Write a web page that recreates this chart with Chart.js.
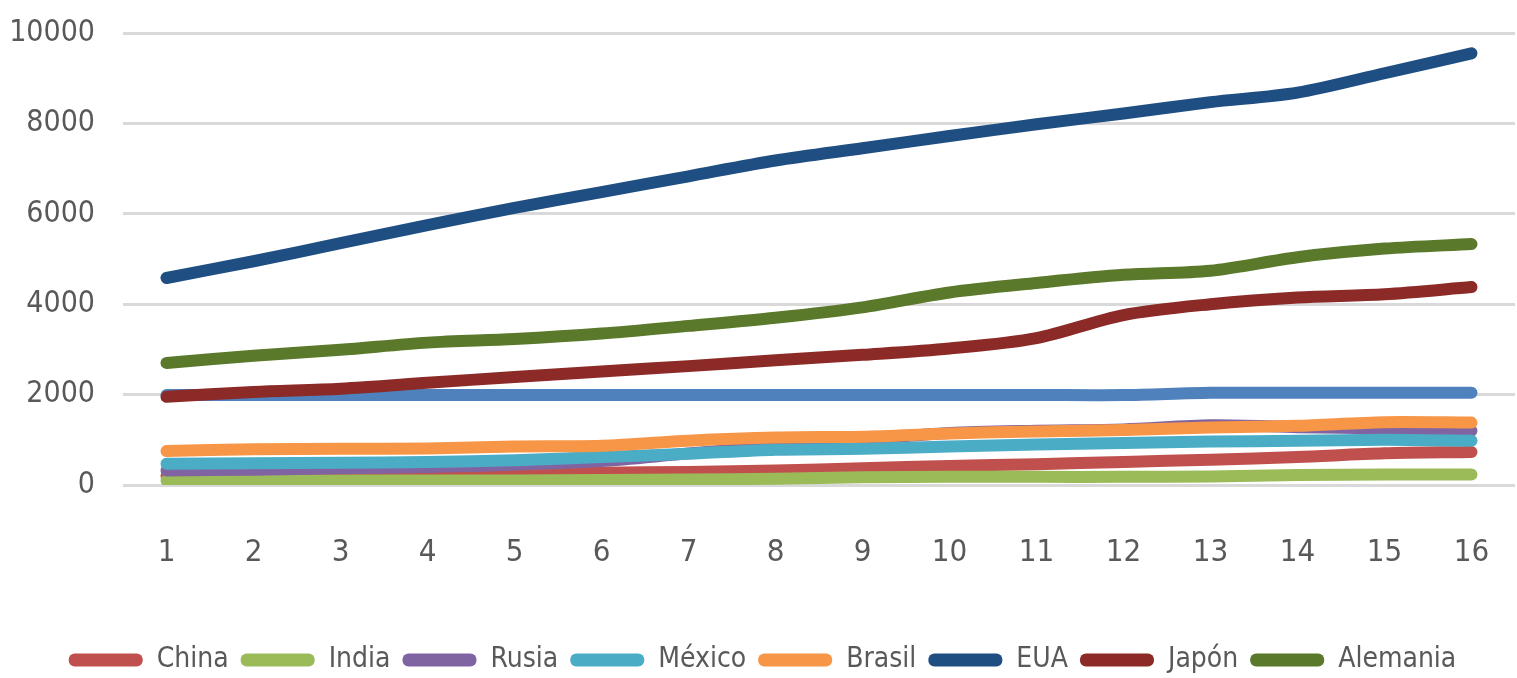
<!DOCTYPE html>
<html>
<head>
<meta charset="utf-8">
<script src="https://cdn.jsdelivr.net/npm/chart.js@4"></script>
<style>
  html, body { margin: 0; padding: 0; background: #fff; }
  canvas { display: block; }
</style>
</head>
<body>
<canvas id="chart" width="1517" height="678"></canvas>
<script>
const years = ["1", "2", "3", "4", "5", "6", "7", "8", "9", "10", "11", "12", "13", "14", "15", "16"];

const china = [200, 210, 220, 230, 250, 270, 290, 320, 370, 420, 460, 510, 560, 620, 700, 730];
const india = [100, 100, 100, 100, 100, 110, 120, 140, 170, 180, 180, 180, 190, 220, 230, 230];
const rusia = [320, 340, 370, 400, 450, 530, 700, 850, 1000, 1150, 1200, 1230, 1320, 1280, 1250, 1200];
const mexico = [470, 480, 490, 510, 545, 620, 690, 780, 800, 850, 895, 930, 960, 980, 1000, 980];
const brasil = [750, 790, 800, 810, 850, 870, 980, 1050, 1070, 1140, 1185, 1215, 1270, 1310, 1390, 1380];
const eua = [4580, 4950, 5350, 5750, 6130, 6480, 6830, 7180, 7450, 7720, 7980, 8220, 8470, 8680, 9110, 9550];
const japon = [1950, 2060, 2130, 2260, 2390, 2510, 2630, 2760, 2880, 3020, 3250, 3760, 4000, 4150, 4220, 4380];
const alemania = [2700, 2860, 2990, 3150, 3230, 3350, 3520, 3700, 3930, 4260, 4470, 4650, 4740, 5040, 5230, 5330];
// unlabelled flat series (no legend entry in the original)
const flat = [1990, 1990, 1990, 1990, 1990, 1990, 1990, 1990, 1990, 1990, 1990, 1990, 2040, 2040, 2040, 2040];

const yTicks = [0, 2000, 4000, 6000, 8000, 10000];

const FONT = "'DejaVu Sans Condensed', 'Liberation Sans Narrow', sans-serif";
const TEXT = "#595959";

// listed top-most first: Chart.js paints dataset 0 last
const series = [
  { label: "Alemania", data: alemania, color: "#5A792B" },
  { label: "Japón", data: japon, color: "#8B2A27" },
  { label: "EUA", data: eua, color: "#1F4E83" },
  { label: "Brasil", data: brasil, color: "#F79646" },
  { label: "México", data: mexico, color: "#4BACC6" },
  { label: "Rusia", data: rusia, color: "#8064A2" },
  { label: "India", data: india, color: "#9BBB59" },
  { label: "China", data: china, color: "#C0504D" },
  { label: "", data: flat, color: "#4F81BD", hidden: true },
];

const defaultLabels = Chart.defaults.plugins.legend.labels.generateLabels;

new Chart(document.getElementById("chart"), {
  type: "line",
  data: {
    labels: years,
    datasets: series.map((s) => ({
      label: s.label,
      data: s.data,
      borderColor: s.color,
      backgroundColor: s.color,
      borderWidth: 12,
      borderCapStyle: "round",
      borderJoinStyle: "round",
      pointRadius: 0,
      tension: 0.3,
      noLegend: !!s.hidden,
    })),
  },
  options: {
    responsive: false,
    animation: false,
    layout: { autoPadding: false, padding: { left: 10, right: 2, top: 33, bottom: -6 } },
    plugins: {
      tooltip: { enabled: false },
      legend: {
        position: "bottom",
        reverse: true,
        labels: {
          color: TEXT,
          font: { family: FONT, size: 28 },
          boxWidth: 74,
          boxHeight: 13,
          useBorderRadius: true,
          borderRadius: 6,
          padding: 12,
          generateLabels: (chart) =>
            defaultLabels(chart).map((item) => ({ ...item, lineWidth: 0 })),
          filter: (item, data) => !data.datasets[item.datasetIndex].noLegend,
        },
      },
    },
    scales: {
      x: {
        offset: true,
        grid: { display: false },
        border: { display: false },
        afterFit: (axis) => {
          axis.height = 149;
          axis.paddingLeft = 0;
          axis.paddingRight = 0;
        },
        ticks: { color: TEXT, font: { family: FONT, size: 31 }, padding: 41, maxRotation: 0 },
      },
      y: {
        min: 0,
        max: 10000,
        afterBuildTicks: (axis) => { axis.ticks = yTicks.map((v) => ({ value: v })); },
        afterFit: (axis) => {
          axis.width = 113;
          axis.paddingTop = 0;
          axis.paddingBottom = 0;
        },
        grid: { color: "#D9D9D9", lineWidth: 3, drawTicks: false },
        border: { display: false },
        ticks: {
          color: TEXT,
          font: { family: FONT, size: 30 },
          padding: 28,
          callback: (v) => String(v),
        },
      },
    },
  },
});
</script>
</body>
</html>
